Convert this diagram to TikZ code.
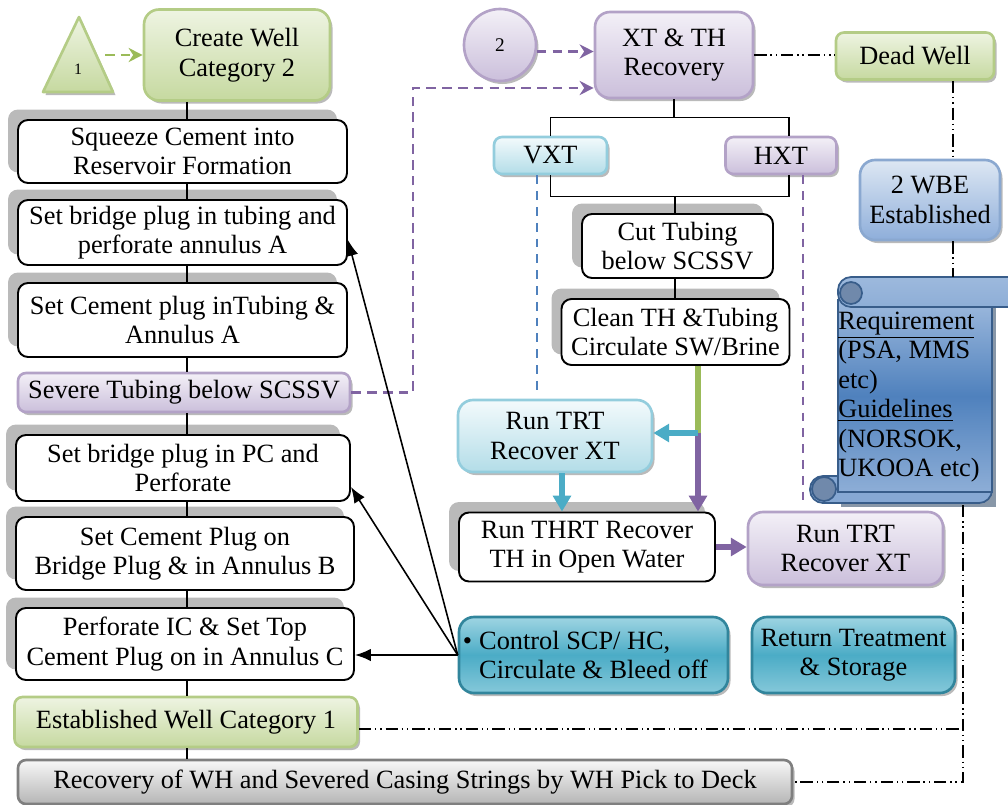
\documentclass[tikz,border=0pt]{standalone}
\usepackage{fontspec}
\setmainfont{Liberation Serif}
\usetikzlibrary{arrows.meta,shadows,calc}

\definecolor{grnL}{HTML}{EEF4E2}
\definecolor{grnD}{HTML}{C6D9A0}
\definecolor{grnB}{HTML}{B4CC86}
\definecolor{grnA}{HTML}{9BBB59}
\definecolor{purL}{HTML}{F3F0F7}
\definecolor{purD}{HTML}{CBBFDB}
\definecolor{purB}{HTML}{B3A2C7}
\definecolor{purA}{HTML}{8064A2}
\definecolor{cyaL}{HTML}{F3FAFC}
\definecolor{cyaD}{HTML}{B3DDE8}
\definecolor{cyaB}{HTML}{93CDDD}
\definecolor{cyaA}{HTML}{4BACC6}
\definecolor{telL}{HTML}{9ED4E2}
\definecolor{telD}{HTML}{4BACC6}
\definecolor{telB}{HTML}{31859C}
\definecolor{bluL}{HTML}{DDE7F3}
\definecolor{bluD}{HTML}{8EAEDA}
\definecolor{bluB}{HTML}{8AA8D0}
\definecolor{bluA}{HTML}{4F81BD}
\definecolor{gryL}{HTML}{F7F7F7}
\definecolor{gryD}{HTML}{B5B5B5}
\definecolor{gryB}{HTML}{7F7F7F}
\definecolor{scrL}{HTML}{9DB9DD}
\definecolor{scrM}{HTML}{4F81BD}
\definecolor{scrB}{HTML}{385D8A}
\definecolor{scrC}{HTML}{7089AB}

\begin{document}
\begin{tikzpicture}[x=0.02cm, y=-0.02cm,
  font=\fontsize{15}{16.8}\selectfont,
  sz/.style 2 args={minimum width=#1*0.02cm, minimum height=#2*0.02cm},
  wbox/.style={draw=black, line width=1.1pt, fill=white, rounded corners=0.2cm,
    inner sep=1pt, align=center,
    general shadow={fill=black!27, shadow xshift=-0.2cm, shadow yshift=0.21cm}},
  cbox/.style={rounded corners=0.16cm, inner sep=1pt, align=center, line width=1.5pt,
    drop shadow={fill=black!45, opacity=0.6, shadow xshift=0.05cm, shadow yshift=-0.06cm}},
  grnbox/.style={cbox, draw=grnB, top color=grnL, bottom color=grnD},
  purbox/.style={cbox, draw=purB, top color=purL, bottom color=purD},
  cyabox/.style={cbox, draw=cyaB, top color=cyaL, bottom color=cyaD},
  telbox/.style={cbox, draw=telB, top color=telL, bottom color=telL!70!telD, middle color=telD},
  blubox/.style={cbox, draw=bluB, top color=bluL, bottom color=bluD},
  grybox/.style={cbox, draw=gryB, top color=gryL, bottom color=gryD},
  spine/.style={draw=black, line width=0.9pt},
  ddot/.style={draw=black, line width=0.9pt,
    dash pattern=on 7pt off 2.2pt on 0.8pt off 2.2pt on 0.8pt off 2.2pt},
  pdash/.style={draw=purA, line width=1.5pt, dash pattern=on 5.5pt off 3.5pt,
    -{Stealth[length=8pt,width=8pt]}},
  gdash/.style={draw=grnA, line width=1.6pt, dash pattern=on 5.5pt off 3.5pt,
    -{Stealth[length=8pt,width=8pt]}},
  vdash/.style={line width=1.2pt, dash pattern=on 5pt off 4pt},
  thk/.style={line width=3pt},
  thkarr/.style={thk, -{Triangle[length=9pt,width=10pt]}},
  barrow/.style={draw=black, line width=0.9pt, -{Latex[length=9pt,width=7pt]}}
]
\useasboundingbox (0,0) rectangle (1008,805);

% ---------- left column ----------
\path[draw=grnB, line width=1.5pt, line join=round, top color=grnL, bottom color=grnD,
  drop shadow={fill=black!45, opacity=0.6, shadow xshift=0.05cm, shadow yshift=-0.06cm}]
  (79,17) -- (113,92) -- (43,92) -- cycle;
\node[font=\fontsize{9}{11}\selectfont] (t1) at (78,69) {1};
\coordinate (t1r) at (105,55);

\node[grnbox, sz={186}{91}, rounded corners=0.3cm] (create) at (237,55) {Create Well\\Category 2};
\node[wbox, sz={329}{63}] (squeeze) at (182.5,151.5) {Squeeze Cement into\\Reservoir Formation};
\node[wbox, sz={329}{65}] (bptub) at (182.5,232.5) {Set bridge plug in tubing and\\perforate annulus A};
\node[wbox, sz={329}{74}] (cptub) at (182.5,320) {Set Cement plug inTubing \&\\Annulus A};
\node[purbox, sz={332}{39}] (severe) at (184,392.5) {Severe Tubing below SCSSV};
\node[wbox, sz={334}{66}] (bppc) at (183,468) {Set bridge plug in PC and\\Perforate};
\node[wbox, sz={338}{73}] (cpbp) at (185,553.5) {Set Cement Plug on\\Bridge Plug \& in Annulus B};
\node[wbox, sz={338}{72}] (perf) at (185,644) {Perforate IC \& Set Top\\Cement Plug on in Annulus C};
\node[grnbox, sz={343}{50}] (estab) at (186,722) {Established Well Category 1};
\node[grybox, sz={774}{44}] (recov) at (405,782) {Recovery of WH and Severed Casing Strings by WH Pick to Deck};

\coordinate (sp) at (187,0);
\draw[spine] (create.south -| sp) -- (squeeze.north -| sp);
\draw[spine] (squeeze.south -| sp) -- (bptub.north -| sp);
\draw[spine] (bptub.south -| sp) -- (cptub.north -| sp);
\draw[spine] (cptub.south -| sp) -- (severe.north -| sp);
\draw[spine] (severe.south -| sp) -- (bppc.north -| sp);
\draw[spine] (bppc.south -| sp) -- (cpbp.north -| sp);
\draw[spine] (cpbp.south -| sp) -- (perf.north -| sp);
\draw[spine] (perf.south -| sp) -- (estab.north -| sp);
\draw[spine] (estab.south -| sp) -- (recov.north -| sp);

\draw[gdash] (t1r) -- (t1r -| create.west);

% ---------- recovery branch ----------
\node[purbox, circle, minimum size=72*0.02cm, font=\fontsize{11}{13}\selectfont] (circ) at (500,45) {2};
\node[purbox, sz={158}{86}, rounded corners=0.3cm] (xt) at (674,55) {XT \& TH\\Recovery};
\node[grnbox, sz={158}{47}] (dead) at (915,56) {Dead Well};
\node[cyabox, sz={113}{37}] (vxt) at (550.5,155.5) {VXT};
\node[purbox, sz={111}{37}] (hxt) at (781,155.5) {HXT};
\node[blubox, sz={140}{80}, rounded corners=0.3cm] (wbe) at (930,200) {2 WBE\\Established};

\node[wbox, sz={191}{64}] (cut) at (677.5,246) {Cut Tubing\\below SCSSV};
\node[wbox, sz={228}{66}] (clean) at (675.5,332) {Clean TH \&Tubing\\Circulate SW/Brine};
\node[cyabox, sz={194}{72}, rounded corners=0.3cm] (trtc) at (555,436) {Run TRT\\Recover XT};
\node[wbox, sz={256}{69}] (thrt) at (587,547) {Run THRT Recover\\TH in Open Water};
\node[purbox, sz={195}{73}, rounded corners=0.3cm] (trtp) at (845.5,548.5) {Run TRT\\Recover XT};
\node[telbox, sz={269}{76}, rounded corners=0.3cm, align=left] (ctrl) at (593.5,655)
  {\llap{\textbullet\hspace{4pt}}Control SCP/ HC,\\Circulate \& Bleed off};
\node[telbox, sz={203}{76}, rounded corners=0.3cm] (ret) at (853.5,655) {Return Treatment\\\& Storage};

% XT / TH split and merge
\coordinate (hx) at (789,0);
\coordinate (mx) at (675,0);
\draw[spine] (xt.south) -- ++(0,18) coordinate (xtj);
\draw[spine] (vxt.north) |- (xtj) -| (hxt.north -| hx);
\draw[spine] (vxt.south) -- ++(0,21) coordinate (vj) -| (hxt.south -| hx);
\draw[spine] (vj -| mx) -- (cut.north -| mx);
\draw[spine] (cut.south -| mx) -- (clean.north -| mx);

% dashed branch guides
\coordinate (bx) at (537,0);
\coordinate (px) at (803,0);
\draw[vdash, draw=bluA] (vxt.south -| bx) -- (537,392);
\draw[vdash, draw=purA] (hxt.south -| px) -- (803,505);

% thick flow arrows
\coordinate (gx) at (698,0);
\coordinate (gsplit) at (698,433);
\coordinate (cx) at (562,0);
\draw[thk, draw=grnA] (clean.south -| gx) -- (gsplit);
\draw[thkarr, draw=purA, fill=purA] (gsplit) -- (thrt.north -| gx);
\draw[thkarr, draw=cyaA, fill=cyaA] (gsplit) -- (gsplit -| trtc.east);
\draw[thkarr, draw=cyaA, fill=cyaA] (trtc.south -| cx) -- (thrt.north -| cx);
\draw[thkarr, draw=purA, fill=purA] (thrt.east) -- (thrt.east -| trtp.west);

% dashed feeds into XT & TH Recovery
\coordinate (sv) at (413,88);
\draw[pdash] (severe.east) -| (sv) -- (sv -| xt.west);
\draw[pdash] (circ.-10) -- (circ.-10 -| xt.west);

% arrows from the control box
\draw[barrow] (ctrl.west) -- (bptub.east |- 0,240);
\draw[barrow] (ctrl.west) -- (bppc.east |- 0,487);
\draw[barrow] (ctrl.west) -- (ctrl.west -| perf.east);

% ---------- requirement scroll ----------
\fill[scrB!70!black, opacity=0.55] (841,298) rectangle (996,507);
\path[draw=scrB, line width=1pt, rounded corners=0.26cm, fill=scrL!70!scrM]
  (810,476) rectangle (992,503);
\path[draw=scrB, line width=1pt, top color=scrL, bottom color=scrL!80!scrM, middle color=scrM]
  (838,300) rectangle (992,492);
\path[draw=scrB, line width=1pt, rounded corners=0.26cm, top color=scrL, bottom color=scrL!80!scrM]
  (838,277) rectangle (1030,307);
\path[draw=scrB, line width=1pt, fill=scrC] (851,293) circle[radius=0.22cm];
\path[draw=scrB, line width=1pt, fill=scrC] (824,489) circle[radius=0.24cm];
\coordinate (scrtop) at (953,277);
\coordinate (scrbot) at (963,505);
\node[align=left, anchor=west, inner sep=0pt] (req) at (838,397)
  {\underline{Requirement}\\(PSA, MMS\\etc)\\\underline{Guidelines}\\(NORSOK,\\UKOOA etc)};

% ---------- dash-dot links ----------
\coordinate (dv) at (953,0);
\draw[ddot] (xt.east) -- (xt.east -| dead.west);
\draw[ddot] (dead.south -| dv) -- (wbe.north -| dv);
\draw[ddot] (wbe.south -| dv) -- (scrtop);
\draw[ddot] (scrbot) -- (scrbot |- recov.east) -- (recov.east);
\draw[ddot] (estab.east |- 0,729) -- (scrbot |- 0,729);
\end{tikzpicture}
\end{document}
